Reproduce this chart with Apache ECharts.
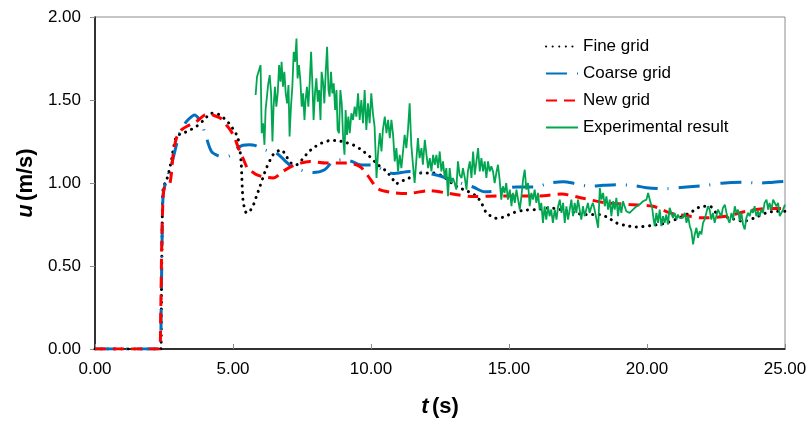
<!DOCTYPE html>
<html>
<head>
<meta charset="utf-8">
<script src="https://cdn.jsdelivr.net/npm/echarts@6/dist/echarts.min.js"></script>
<style>
html,body{margin:0;padding:0;background:#fff;}
#chart{width:811px;height:423px;}
</style>
</head>
<body>
<div id="chart"></div>
<script>
// ---- data ----
const xTicks = [0, 5, 10, 15, 20, 25];
const yTicks = [0, 0.5, 1, 1.5, 2];
const seriesNames = ['Fine grid', 'Coarse grid', 'New grid', 'Experimental result'];

const fineT = [0, 2.38, 2.41, 2.44, 2.47, 2.6, 2.75, 2.95, 3.19, 3.45, 3.67, 3.95, 4.22, 4.45, 4.6, 4.8, 4.94, 5.1, 5.18, 5.25, 5.3, 5.36, 5.43, 5.49, 5.6, 5.72, 5.85, 5.97, 6.1, 6.21, 6.35, 6.45, 6.6, 6.75, 6.9, 7.05, 7.2, 7.3, 7.5, 7.7, 7.9, 8.2, 8.5, 8.75, 9.05, 9.35, 9.65, 9.95, 10.25, 10.56, 10.8, 10.92, 11.04, 11.3, 11.64, 12.0, 12.25, 12.6, 13.09, 13.5, 13.82, 14.0, 14.18, 14.36, 14.54, 14.8, 15.14, 15.5, 15.99, 16.47, 16.7, 17.0, 17.44, 17.68, 18.0, 18.29, 18.6, 18.89, 19.2, 19.6, 20.2, 20.7, 21.18, 21.55, 21.8, 21.97, 22.27, 22.51, 22.75, 22.99, 23.48, 23.9, 24.32, 24.69, 25.0];
const fineU = [0, 0, 0.35, 0.8, 0.97, 1.02, 1.12, 1.28, 1.30, 1.32, 1.34, 1.38, 1.42, 1.415, 1.40, 1.37, 1.34, 1.30, 1.27, 1.20, 1.11, 0.90, 0.84, 0.82, 0.83, 0.86, 0.92, 0.976, 1.04, 1.09, 1.14, 1.17, 1.19, 1.20, 1.17, 1.13, 1.11, 1.11, 1.14, 1.18, 1.21, 1.24, 1.255, 1.256, 1.245, 1.23, 1.20, 1.16, 1.11, 1.07, 1.02, 0.995, 1.01, 1.02, 1.06, 1.06, 1.06, 1.04, 0.98, 0.95, 0.92, 0.88, 0.82, 0.80, 0.787, 0.795, 0.82, 0.835, 0.84, 0.85, 0.845, 0.835, 0.82, 0.81, 0.81, 0.81, 0.79, 0.76, 0.745, 0.735, 0.745, 0.76, 0.79, 0.82, 0.845, 0.86, 0.86, 0.82, 0.80, 0.79, 0.77, 0.79, 0.82, 0.83, 0.83];

const coarseT = [0, 2.36, 2.40, 2.44, 2.48, 2.6, 2.8, 3.07, 3.31, 3.5, 3.61, 3.75, 3.86, 4.04, 4.22, 4.45, 4.64, 4.88, 5.0, 5.36, 5.6, 5.79, 6.15, 6.57, 6.85, 7.12, 7.42, 7.9, 8.32, 8.62, 8.99, 9.3, 9.59, 10.07, 10.43, 10.8, 11.4, 12.25, 12.73, 13.33, 13.7, 14.12, 14.4, 14.66, 15.27, 15.99, 16.35, 16.96, 17.44, 17.92, 18.41, 18.89, 19.55, 19.98, 20.7, 21.43, 22.15, 22.7, 23.48, 24.09, 24.57, 25];
const coarseU = [0, 0, 0.3, 0.75, 0.95, 1.02, 1.13, 1.30, 1.37, 1.40, 1.41, 1.39, 1.36, 1.27, 1.19, 1.165, 1.16, 1.165, 1.19, 1.227, 1.23, 1.227, 1.20, 1.18, 1.14, 1.10, 1.08, 1.063, 1.08, 1.13, 1.14, 1.13, 1.11, 1.107, 1.08, 1.057, 1.07, 1.053, 1.03, 0.995, 0.976, 0.947, 0.95, 0.96, 0.976, 0.976, 0.995, 1.008, 0.995, 0.98, 0.986, 0.99, 0.984, 0.972, 0.966, 0.976, 0.986, 0.999, 1.005, 0.999, 1.005, 1.01];

const newT = [0, 2.34, 2.38, 2.42, 2.47, 2.53, 2.71, 2.83, 2.95, 3.13, 3.43, 3.67, 3.97, 4.15, 4.34, 4.55, 4.70, 4.9, 5.06, 5.2, 5.36, 5.55, 5.67, 5.85, 6.03, 6.21, 6.45, 6.81, 7.12, 7.45, 7.78, 8.38, 9.11, 9.59, 9.89, 10.25, 10.68, 11.28, 12.13, 12.85, 13.7, 14.54, 15.51, 16.11, 16.9, 17.68, 18.41, 19.01, 19.37, 20.22, 20.82, 21.3, 22.03, 22.87, 23.6, 24.2, 25];
const newU = [0, 0, 0.2, 0.65, 0.92, 0.976, 0.995, 1.17, 1.27, 1.32, 1.35, 1.37, 1.41, 1.415, 1.405, 1.39, 1.36, 1.32, 1.27, 1.21, 1.15, 1.08, 1.07, 1.05, 1.04, 1.034, 1.03, 1.07, 1.10, 1.12, 1.13, 1.12, 1.12, 1.10, 1.043, 0.966, 0.945, 0.937, 0.953, 0.937, 0.918, 0.922, 0.922, 0.922, 0.933, 0.908, 0.883, 0.875, 0.87, 0.86, 0.82, 0.806, 0.79, 0.80, 0.83, 0.845, 0.846];

const expT = [5.82, 5.87, 5.94, 6.00, 6.04, 6.09, 6.14, 6.18, 6.23, 6.27, 6.33, 6.38, 6.43, 6.47, 6.52, 6.57, 6.62, 6.67, 6.72, 6.76, 6.81, 6.86, 6.91, 6.96, 7.01, 7.05, 7.10, 7.15, 7.20, 7.25, 7.30, 7.34, 7.39, 7.44, 7.49, 7.54, 7.59, 7.63, 7.68, 7.73, 7.78, 7.83, 7.88, 7.92, 7.97, 8.02, 8.07, 8.12, 8.17, 8.21, 8.26, 8.31, 8.36, 8.41, 8.46, 8.50, 8.55, 8.60, 8.65, 8.70, 8.75, 8.79, 8.84, 8.89, 8.94, 8.99, 9.04, 9.08, 9.13, 9.18, 9.23, 9.29, 9.35, 9.41, 9.47, 9.53, 9.59, 9.65, 9.71, 9.77, 9.83, 9.89, 9.95, 10.01, 10.07, 10.13, 10.20, 10.25, 10.32, 10.38, 10.43, 10.50, 10.56, 10.62, 10.68, 10.74, 10.80, 10.86, 10.92, 10.98, 11.04, 11.10, 11.16, 11.22, 11.28, 11.34, 11.40, 11.46, 11.52, 11.58, 11.64, 11.70, 11.76, 11.83, 11.88, 11.95, 12.01, 12.07, 12.13, 12.19, 12.25, 12.31, 12.37, 12.43, 12.49, 12.55, 12.61, 12.67, 12.73, 12.79, 12.85, 12.91, 12.97, 13.03, 13.09, 13.15, 13.21, 13.28, 13.33, 13.40, 13.46, 13.51, 13.58, 13.64, 13.70, 13.76, 13.82, 13.88, 13.94, 14.00, 14.06, 14.12, 14.18, 14.24, 14.30, 14.36, 14.42, 14.48, 14.54, 14.60, 14.66, 14.72, 14.78, 14.84, 14.90, 14.96, 15.03, 15.09, 15.14, 15.21, 15.27, 15.33, 15.39, 15.45, 15.51, 15.57, 15.63, 15.69, 15.75, 15.81, 15.87, 15.93, 15.99, 16.05, 16.11, 16.17, 16.23, 16.29, 16.35, 16.41, 16.47, 16.53, 16.59, 16.66, 16.72, 16.78, 16.84, 16.90, 16.96, 17.02, 17.08, 17.14, 17.20, 17.26, 17.32, 17.38, 17.44, 17.50, 17.56, 17.62, 17.68, 17.74, 17.80, 17.86, 17.92, 17.99, 18.04, 18.10, 18.17, 18.23, 18.29, 18.35, 18.41, 18.47, 18.53, 18.59, 18.65, 18.71, 18.77, 18.83, 18.89, 18.95, 19.01, 19.07, 19.13, 19.25, 19.37, 19.49, 19.62, 19.73, 19.86, 19.98, 20.04, 20.10, 20.13, 20.18, 20.24, 20.28, 20.34, 20.40, 20.46, 20.52, 20.58, 20.64, 20.70, 20.76, 20.82, 20.88, 20.94, 21.00, 21.07, 21.12, 21.18, 21.25, 21.30, 21.37, 21.43, 21.49, 21.55, 21.61, 21.67, 21.73, 21.79, 21.85, 21.91, 21.97, 22.03, 22.09, 22.15, 22.21, 22.27, 22.33, 22.39, 22.45, 22.51, 22.57, 22.63, 22.69, 22.75, 22.82, 22.88, 22.94, 22.99, 23.06, 23.12, 23.18, 23.24, 23.30, 23.36, 23.42, 23.48, 23.54, 23.60, 23.66, 23.72, 23.78, 23.84, 23.90, 23.96, 24.02, 24.08, 24.14, 24.20, 24.26, 24.33, 24.39, 24.44, 24.51, 24.57, 24.63, 24.69, 24.75, 24.81, 24.87, 24.93, 25.00];
const expU = [1.53, 1.64, 1.65, 1.71, 1.30, 1.36, 1.23, 1.44, 1.52, 1.59, 1.65, 1.54, 1.25, 1.46, 1.58, 1.46, 1.54, 1.71, 1.61, 1.73, 1.58, 1.67, 1.54, 1.48, 1.59, 1.28, 1.46, 1.58, 1.79, 1.73, 1.87, 1.63, 1.71, 1.62, 1.46, 1.54, 1.38, 1.50, 1.58, 1.46, 1.61, 1.79, 1.58, 1.38, 1.54, 1.63, 1.49, 1.56, 1.38, 1.67, 1.61, 1.48, 1.67, 1.82, 1.56, 1.52, 1.67, 1.54, 1.60, 1.44, 1.56, 1.32, 1.30, 1.56, 1.48, 1.27, 1.17, 1.44, 1.29, 1.40, 1.30, 1.42, 1.38, 1.46, 1.40, 1.54, 1.38, 1.50, 1.36, 1.56, 1.32, 1.48, 1.36, 1.54, 1.42, 1.34, 1.03, 1.17, 1.30, 1.19, 1.32, 1.40, 1.30, 1.38, 1.27, 1.38, 1.29, 1.13, 1.21, 1.07, 1.17, 1.09, 1.19, 1.29, 1.21, 1.32, 1.48, 1.23, 1.11, 1.00, 1.13, 1.27, 1.15, 1.21, 1.11, 1.26, 1.17, 1.09, 1.15, 1.07, 1.17, 1.11, 1.17, 1.09, 1.19, 1.07, 1.13, 1.03, 1.09, 0.92, 1.09, 1.00, 1.03, 1.00, 0.96, 1.13, 1.05, 1.03, 1.09, 1.03, 0.96, 1.07, 1.13, 1.03, 1.19, 1.05, 1.13, 1.21, 1.07, 1.15, 1.07, 1.13, 1.03, 1.13, 1.07, 1.10, 1.07, 1.00, 1.06, 1.11, 1.02, 0.90, 0.98, 0.94, 1.00, 0.90, 0.96, 0.86, 0.94, 0.88, 0.96, 0.90, 0.84, 0.92, 1.02, 1.08, 0.96, 1.00, 0.86, 0.94, 0.90, 0.96, 0.88, 0.94, 0.84, 0.88, 0.76, 0.86, 0.78, 0.86, 0.80, 0.84, 0.76, 0.84, 0.78, 0.86, 0.90, 0.82, 0.88, 0.76, 0.86, 0.78, 0.84, 0.90, 0.80, 0.88, 0.82, 0.90, 0.84, 0.78, 0.86, 0.80, 0.84, 0.88, 0.82, 0.86, 0.88, 0.84, 0.78, 0.73, 0.97, 0.90, 0.94, 0.86, 0.92, 0.84, 0.90, 0.80, 0.89, 0.84, 0.91, 0.80, 0.88, 0.82, 0.89, 0.83, 0.82, 0.84, 0.86, 0.87, 0.89, 0.90, 0.94, 0.95, 0.88, 0.86, 0.78, 0.74, 0.82, 0.76, 0.84, 0.74, 0.80, 0.76, 0.81, 0.75, 0.85, 0.86, 0.79, 0.82, 0.78, 0.81, 0.79, 0.80, 0.79, 0.82, 0.76, 0.80, 0.74, 0.71, 0.63, 0.69, 0.73, 0.67, 0.71, 0.69, 0.76, 0.78, 0.82, 0.86, 0.84, 0.78, 0.82, 0.76, 0.80, 0.84, 0.82, 0.80, 0.85, 0.87, 0.82, 0.78, 0.76, 0.82, 0.78, 0.86, 0.82, 0.84, 0.77, 0.82, 0.75, 0.72, 0.79, 0.82, 0.80, 0.84, 0.82, 0.86, 0.80, 0.83, 0.80, 0.84, 0.82, 0.88, 0.90, 0.84, 0.88, 0.84, 0.90, 0.91, 0.86, 0.88, 0.80, 0.79, 0.84, 0.87];

// ---- build ----
function zip(a, b) { return a.map((v, i) => [v, b[i]]); }
const FONT = "'Liberation Sans', Arial, sans-serif";

const chart = echarts.init(document.getElementById('chart'), null, { renderer: 'canvas' });
chart.setOption({
  animation: false,
  backgroundColor: '#ffffff',
  grid: { left: 95, right: 26, top: 17, bottom: 61, show: true, borderColor: '#8c8c8c', borderWidth: 1, containLabel: false },
  legend: {
    orient: 'vertical',
    left: 540, top: 33,
    itemWidth: 32, itemHeight: 14, itemGap: 10,
    itemStyle: { opacity: 0 },
    textStyle: { fontFamily: FONT, fontSize: 17, color: '#000', lineHeight: 17 },
    data: seriesNames
  },
  xAxis: {
    type: 'value', min: xTicks[0], max: xTicks[xTicks.length - 1], interval: 5,
    name: '{i|t} {b|(s)}', nameLocation: 'middle', nameGap: 47,
    nameTextStyle: { rich: {
      i: { fontFamily: FONT, fontSize: 22, fontWeight: 'bold', fontStyle: 'italic', color: '#000' },
      b: { fontFamily: FONT, fontSize: 22, fontWeight: 'bold', color: '#000' } } },
    axisLine: { onZero: false, lineStyle: { color: '#000', width: 1.5 } },
    axisTick: { inside: true, length: 5, lineStyle: { color: '#8c8c8c' } },
    axisLabel: { fontFamily: FONT, fontSize: 17, color: '#000', margin: 12, formatter: v => v.toFixed(2) },
    splitLine: { show: false }
  },
  yAxis: {
    type: 'value', min: yTicks[0], max: yTicks[yTicks.length - 1], interval: 0.5,
    name: '{i|u} {b|(m/s)}', nameLocation: 'middle', nameGap: 54, nameRotate: 90,
    nameTextStyle: { rich: {
      i: { fontFamily: FONT, fontSize: 22, fontWeight: 'bold', fontStyle: 'italic', color: '#000' },
      b: { fontFamily: FONT, fontSize: 22, fontWeight: 'bold', color: '#000' } } },
    axisLine: { show: true, onZero: false, lineStyle: { color: '#000', width: 1.5 } },
    axisTick: { show: true, inside: false, length: 5, lineStyle: { color: '#8c8c8c' } },
    axisLabel: { fontFamily: FONT, fontSize: 17, color: '#000', margin: 14, formatter: v => v.toFixed(2) },
    splitLine: { show: false }
  },
  series: [
    { name: seriesNames[0], type: 'line', symbol: 'none', smooth: 0.3, data: zip(fineT, fineU),
      lineStyle: { color: '#000', width: 3, type: [0.1, 6.5], cap: 'round' }, itemStyle: { color: '#000' } },
    { name: seriesNames[1], type: 'line', symbol: 'none', smooth: 0.3, data: zip(coarseT, coarseU),
      lineStyle: { color: '#0070c0', width: 3, type: [21, 10, 1, 10] }, itemStyle: { color: '#0070c0' } },
    { name: seriesNames[2], type: 'line', symbol: 'none', smooth: 0.3, data: zip(newT, newU),
      lineStyle: { color: '#ff0000', width: 3, type: [11, 7] }, itemStyle: { color: '#ff0000' } },
    { name: seriesNames[3], type: 'line', symbol: 'none', data: zip(expT, expU),
      lineStyle: { color: '#00a650', width: 1.8 }, itemStyle: { color: '#00a650' } }
  ]
});
</script>
</body>
</html>
